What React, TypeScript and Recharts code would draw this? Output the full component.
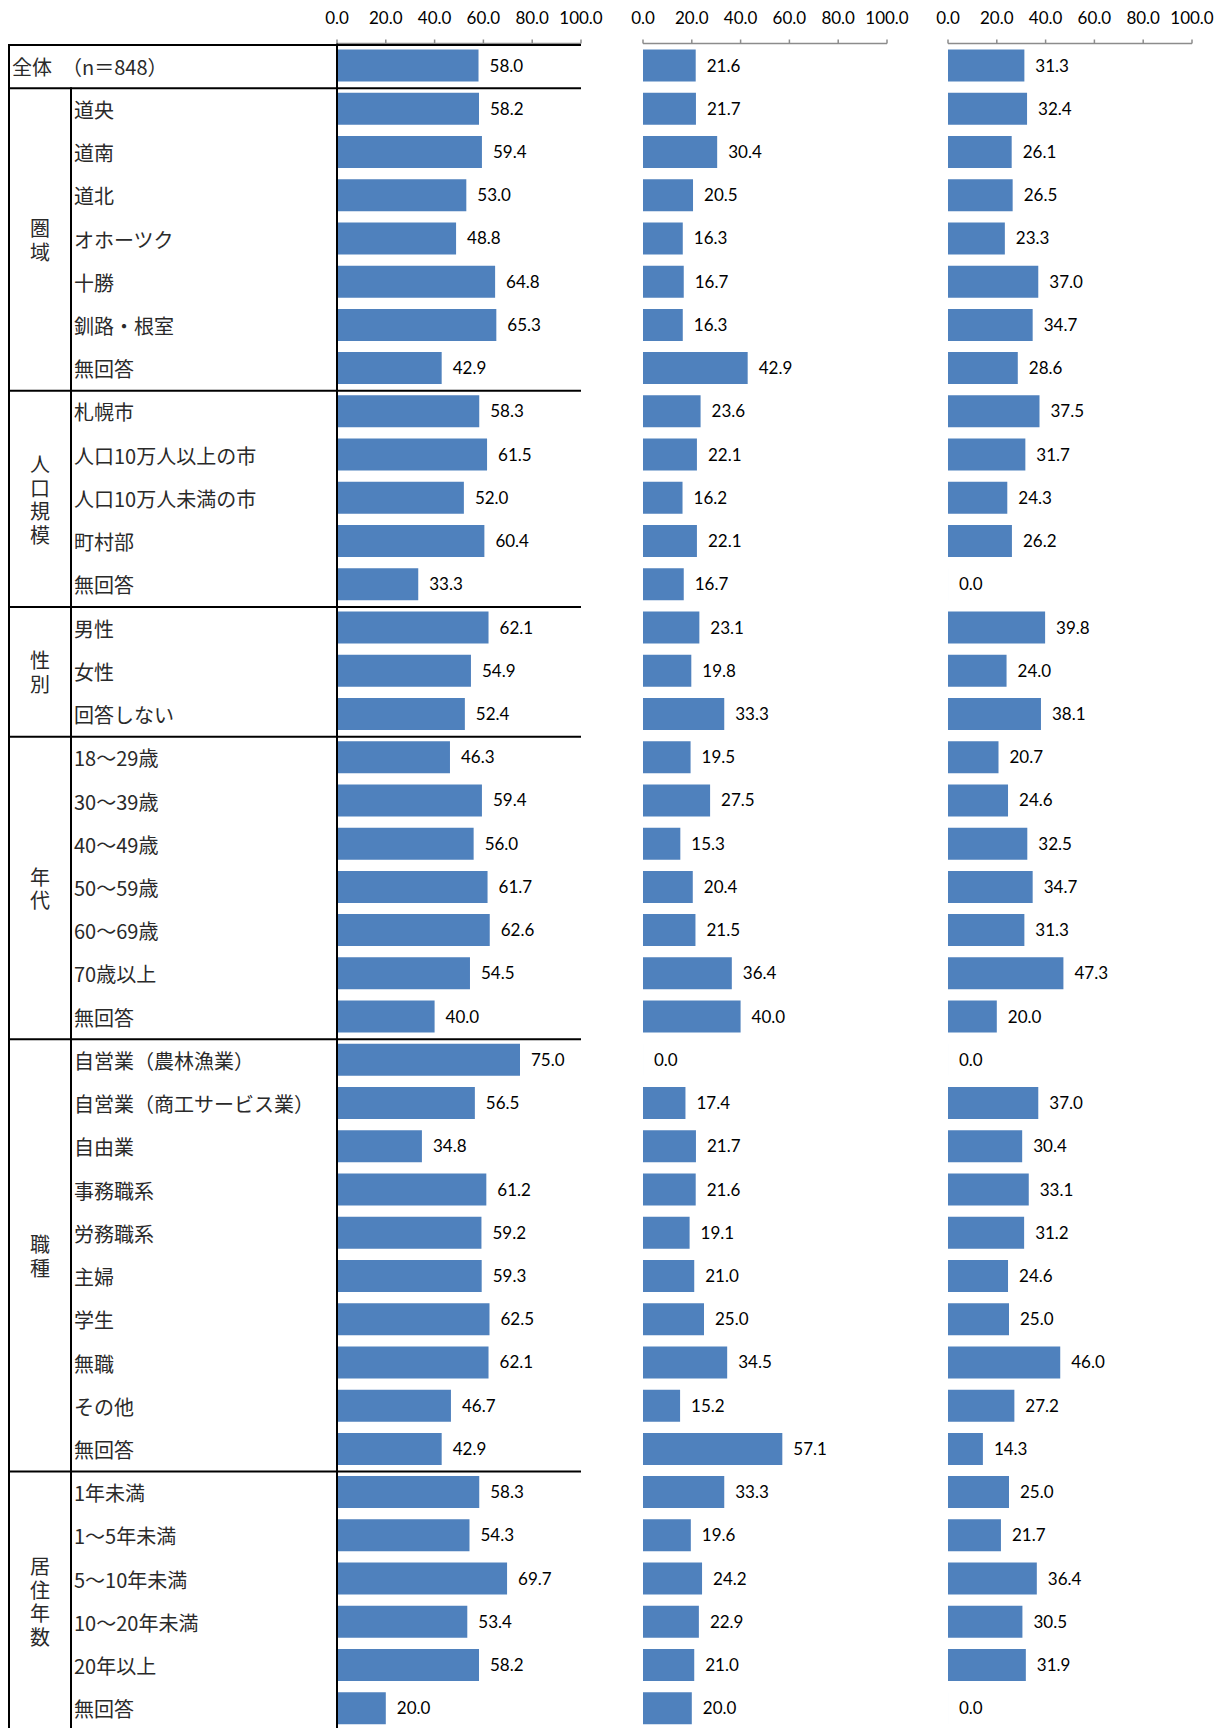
import React from "react";
import { BarChart, Bar, XAxis, YAxis, LabelList } from "recharts";

// row labels (top to bottom)
const rowLabels = [
  "全体　（n＝848）",
  "道央", "道南", "道北", "オホーツク", "十勝", "釧路・根室", "無回答",
  "札幌市", "人口10万人以上の市", "人口10万人未満の市", "町村部", "無回答",
  "男性", "女性", "回答しない",
  "18～29歳", "30～39歳", "40～49歳", "50～59歳", "60～69歳", "70歳以上", "無回答",
  "自営業（農林漁業）", "自営業（商工サービス業）", "自由業", "事務職系", "労務職系",
  "主婦", "学生", "無職", "その他", "無回答",
  "1年未満", "1～5年未満", "5～10年未満", "10～20年未満", "20年以上", "無回答",
];

const groupNames = ["", "圏域", "人口規模", "性別", "年代", "職種", "居住年数"];
const groupSizes = [1, 7, 5, 3, 7, 10, 6];

const col1 = [
  58.0,
  58.2, 59.4, 53.0, 48.8, 64.8, 65.3, 42.9,
  58.3, 61.5, 52.0, 60.4, 33.3,
  62.1, 54.9, 52.4,
  46.3, 59.4, 56.0, 61.7, 62.6, 54.5, 40.0,
  75.0, 56.5, 34.8, 61.2, 59.2, 59.3, 62.5, 62.1, 46.7, 42.9,
  58.3, 54.3, 69.7, 53.4, 58.2, 20.0,
];
const col2 = [
  21.6,
  21.7, 30.4, 20.5, 16.3, 16.7, 16.3, 42.9,
  23.6, 22.1, 16.2, 22.1, 16.7,
  23.1, 19.8, 33.3,
  19.5, 27.5, 15.3, 20.4, 21.5, 36.4, 40.0,
  0.0, 17.4, 21.7, 21.6, 19.1, 21.0, 25.0, 34.5, 15.2, 57.1,
  33.3, 19.6, 24.2, 22.9, 21.0, 20.0,
];
const col3 = [
  31.3,
  32.4, 26.1, 26.5, 23.3, 37.0, 34.7, 28.6,
  37.5, 31.7, 24.3, 26.2, 0.0,
  39.8, 24.0, 38.1,
  20.7, 24.6, 32.5, 34.7, 31.3, 47.3, 20.0,
  0.0, 37.0, 30.4, 33.1, 31.2, 24.6, 25.0, 46.0, 27.2, 14.3,
  25.0, 21.7, 36.4, 30.5, 31.9, 0.0,
];

const xTicks = [0, 20, 40, 60, 80, 100];

// layout
const AXIS_H = 43.5;
const PLOT_H = 1686;
const CHART_H = 1760;
const BAND = PLOT_H / rowLabels.length;
const SHIFT = 1.5;
const PLOT_W = 244;
const BLUE = "#4F81BD";
const CJK = "'Noto Sans CJK JP', sans-serif";
const NUM = "Lato, 'Open Sans', sans-serif";

const groupStarts: number[] = [];
const groupEnds = new Set<number>();
{
  let s = 0;
  groupSizes.forEach((n) => {
    groupStarts.push(s);
    groupEnds.add(s + n - 1);
    s += n;
  });
}

const fmt = (v: any) => Number(v).toFixed(1);

const LabelTick = (props: any) => {
  const { y, payload } = props;
  const i = Number(payload.value);
  const top = y - BAND / 2 + SHIFT;
  const bottom = y + BAND / 2 + SHIFT;
  const g = groupStarts.indexOf(i);
  const tableRight = 337 + PLOT_W;
  let groupLabel = null;
  if (g > 0) {
    const cy = y + ((groupSizes[g] - 1) / 2) * BAND + 4;
    groupLabel = (
      <text
        x={40}
        y={cy}
        textAnchor="middle"
        fontSize={20}
        fontFamily={CJK}
        fill="#2a2a2a"
        style={{ writingMode: "vertical-rl", letterSpacing: 3.5 }}
      >
        {groupNames[g]}
      </text>
    );
  }
  return (
    <g>
      <text
        x={i === 0 ? 12 : 74}
        y={y + 1}
        dominantBaseline="central"
        fontSize={20}
        fontFamily={CJK}
        fill="#2a2a2a"
      >
        {rowLabels[i]}
      </text>
      <line x1={9} x2={9} y1={top - 1} y2={bottom + 1} stroke="#000" strokeWidth={2} />
      {i > 0 && <line x1={71} x2={71} y1={top - 1} y2={bottom + 1} stroke="#000" strokeWidth={2} />}
      {i === 0 && <line x1={8} x2={tableRight} y1={top} y2={top} stroke="#000" strokeWidth={2} />}
      {groupEnds.has(i) && <line x1={8} x2={tableRight} y1={bottom} y2={bottom} stroke="#000" strokeWidth={2} />}
      {groupLabel}
    </g>
  );
};

const makeLineTick = (plotLeft: number) => (props: any) => {
  const { y, payload } = props;
  const i = Number(payload.value);
  const top = y - BAND / 2 + SHIFT;
  const bottom = y + BAND / 2 + SHIFT;
  return (
    <g>
      {i === 0 && <line x1={plotLeft} x2={plotLeft + PLOT_W} y1={top} y2={top} stroke="#000" strokeWidth={2} />}
      {groupEnds.has(i) && <line x1={plotLeft} x2={plotLeft + PLOT_W} y1={bottom} y2={bottom} stroke="#000" strokeWidth={2} />}
    </g>
  );
};

type PanelProps = {
  values: number[];
  left: number;
  yWidth: number;
  marginLeft: number;
  marginRight: number;
  withLabels: boolean;
};

function Panel({ values, left, yWidth, marginLeft, marginRight, withLabels }: PanelProps) {
  const data = values.map((v, i) => ({ id: i, v }));
  const width = marginLeft + yWidth + PLOT_W + marginRight;
  return (
    <div style={{ position: "absolute", left, top: 0 }}>
      <BarChart
        width={width}
        height={CHART_H}
        data={data}
        layout="vertical"
        margin={{ top: 0, right: marginRight, bottom: CHART_H - AXIS_H - PLOT_H, left: marginLeft }}
        barCategoryGap={0}
      >
        <XAxis
          type="number"
          orientation="top"
          domain={[0, 100]}
          ticks={xTicks}
          tickFormatter={fmt}
          height={AXIS_H}
          axisLine={{ stroke: "#8c8c8c", strokeWidth: 1.5 }}
          tickLine={{ stroke: "#8c8c8c", strokeWidth: 1.5 }}
          tickSize={4}
          tickMargin={15.5}
          tick={{ fontSize: 17, fill: "#000", fontFamily: NUM }}
          interval={0}
        />
        <YAxis
          type="category"
          dataKey="id"
          width={yWidth}
          interval={0}
          tickLine={false}
          tickSize={0}
          tickMargin={0}
          axisLine={{ stroke: "#000", strokeWidth: 2 }}
          tick={withLabels ? <LabelTick /> : makeLineTick(marginLeft + yWidth)}
        />
        <Bar dataKey="v" fill={BLUE} barSize={32} minPointSize={0.01} isAnimationActive={false}>
          <LabelList
            dataKey="v"
            position="right"
            offset={11}
            formatter={fmt}
            style={{ fontSize: 17, fill: "#000", fontFamily: NUM }}
          />
        </Bar>
      </BarChart>
    </div>
  );
}

export default function App() {
  return (
    <div
      style={{
        position: "absolute",
        left: 0,
        top: 0,
        width: 1226,
        height: 1728,
        overflow: "hidden",
        background: "#fff",
      }}
    >
      <Panel values={col1} left={0} yWidth={337} marginLeft={0} marginRight={30} withLabels />
      <Panel values={col2} left={623} yWidth={0} marginLeft={20} marginRight={30} withLabels={false} />
      <Panel values={col3} left={928} yWidth={0} marginLeft={20} marginRight={30} withLabels={false} />
    </div>
  );
}
